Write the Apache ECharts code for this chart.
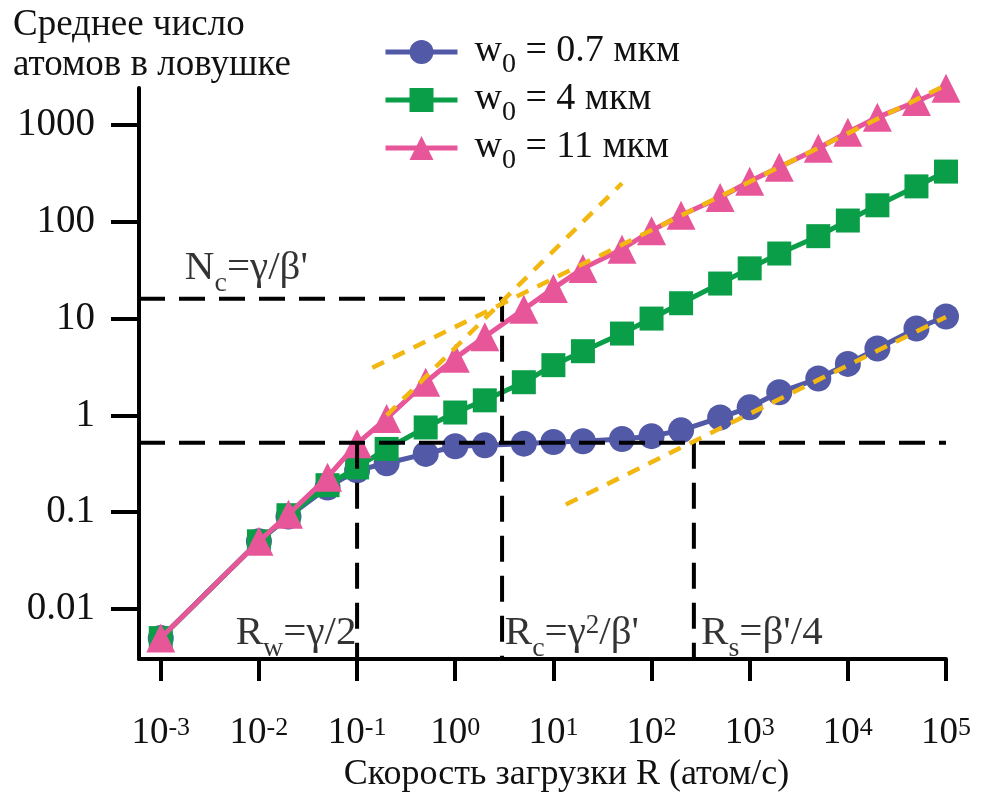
<!DOCTYPE html>
<html><head><meta charset="utf-8">
<script src="https://cdn.jsdelivr.net/npm/echarts@6/dist/echarts.min.js"></script>
<style>html,body{margin:0;padding:0;background:#fff}#c{width:984px;height:798px}</style>
</head><body><div id="c"></div>
<script>
// ---- data ----
const rates = [0.001,0.01,0.02,0.05,0.1,0.2,0.5,1,2,5,10,20,50,100,200,500,1000,2000,5000,10000,20000,50000,100000];
const nBlue  = [0.005,0.05,0.09,0.18,0.27,0.32,0.40,0.48,0.49,0.51,0.53,0.54,0.57,0.61,0.70,0.95,1.21,1.73,2.4,3.4,4.9,7.9,10.5];
const nGreen = [0.005,0.05,0.093,0.19,0.29,0.45,0.75,1.07,1.43,2.2,3.3,4.6,7.0,10,14.4,23,33,47,71,103,148,232,330];
const nPink  = [0.005,0.05,0.095,0.23,0.51,0.93,2.2,3.9,6.5,12.5,20.5,33,52,81,117,178,262,365,575,840,1200,1750,2400];
const seriesNames = ['w0 = 0.7 мкм','w0 = 4 мкм','w0 = 11 мкм'];
const xTicks = [0.001,0.01,0.1,1,10,100,1000,10000,100000];
const yTicks = [0.01,0.1,1,10,100,1000];
const yTickLabels = ['0.01','0.1','1','10','100','1000'];
const xMin = 6e-4, xMax = 1e5, yMin = 0.00304, yMax = 2410;
// characteristic levels
const Nc = 16, Rc = 3.0, Nlow = 0.52, Rw = 0.1, Rs = 270;
// yellow asymptotes [R, N] endpoints
const fitPinkLinear = [[0.2,1.0],[50,250]];
const fitPinkSqrt = [[0.143,3.1],[100000,2590]];
const fitBlueSqrt = [[13.4,0.12],[100000,10.4]];
// annotation anchors [R, N, text]
const notes = [
  [0.00176, 32, '{m|N}{s|c}{m|=γ/β\'}'],
  [0.0058, 0.0054, '{m|R}{s|w}{m|=γ/2}'],
  [3.2, 0.0054, '{m|R}{s|c}{m|=γ}{p|2}{m|/β\'}'],
  [320, 0.0054, '{m|R}{s|s}{m|=β\'/4}']
];

const FF = "'Liberation Serif','DejaVu Serif',serif";
const colors = ['#5259a6','#0b9e48','#e8569a'];
const yellow = '#f2b710';

const chart = echarts.init(document.getElementById('c'), null, {renderer:'canvas'});
const richMain = {
  m:{fontFamily:FF,fontSize:41,lineHeight:44,color:'#000',verticalAlign:'top'},
  s:{fontFamily:FF,fontSize:28,lineHeight:28,color:'#000',verticalAlign:'top',padding:[22,0,0,0]},
  p:{fontFamily:FF,fontSize:27,lineHeight:26,color:'#000',verticalAlign:'top'}
};
function pairs(ys){return rates.map((r,i)=>[r,ys[i]]);}
function blackLine(data){
  return {type:'line',data:data,symbol:'none',silent:true,z:5,
    lineStyle:{color:'#000',width:4,type:[26,14]},clip:true};
}
function yellowLine(data){
  return {type:'line',data:data,symbol:'none',silent:true,z:6,
    lineStyle:{color:yellow,width:4.5,type:[13,10]},clip:true};
}

const option = {
  animation:false,
  backgroundColor:'#fff',
  title:{text:'Среднее число\nатомов в ловушке',left:8,top:0,
    textStyle:{fontFamily:FF,fontSize:37,lineHeight:40,fontWeight:'normal',color:'#111'}},
  legend:{orient:'vertical',left:378,top:27,itemWidth:72,itemHeight:30,itemGap:1,
    data:seriesNames,
    lineStyle:{width:5},
    formatter:function(n){return '{w|w}{s|0}{t|'+n.slice(2)+'}';},
    textStyle:{rich:{
      w:{fontFamily:FF,fontSize:38,lineHeight:40,color:'#111',verticalAlign:'top',padding:[0,0,0,12]},
      s:{fontFamily:FF,fontSize:28,lineHeight:26,color:'#111',verticalAlign:'top',padding:[19,0,0,0]},
      t:{fontFamily:FF,fontSize:38,lineHeight:40,color:'#111',verticalAlign:'top'}
    }}},
  grid:{left:139,right:38,top:88,bottom:139,containLabel:false,outerBoundsMode:'none'},
  xAxis:{type:'log',logBase:10,min:xMin,max:xMax,
    axisLine:{show:true,lineStyle:{color:'#000',width:4}},
    axisTick:{show:true,customValues:xTicks,length:22,lineStyle:{color:'#000',width:4}},
    axisLabel:{customValues:xTicks,margin:56,
      formatter:function(v){return '{a|10}{b|'+Math.round(Math.log10(v))+'}';},
      rich:{a:{fontFamily:FF,fontSize:37,lineHeight:54,color:'#111',verticalAlign:'top'},
            b:{fontFamily:FF,fontSize:26,lineHeight:26,color:'#111',verticalAlign:'top'}}},
    splitLine:{show:false},minorTick:{show:false},
    name:'Скорость загрузки R (атом/с)',nameLocation:'middle',nameGap:97,
    nameTextStyle:{fontFamily:FF,fontSize:36,color:'#111',padding:[0,0,0,48]}
  },
  yAxis:{type:'log',logBase:10,min:yMin,max:yMax,
    axisLine:{show:true,lineStyle:{color:'#000',width:4}},
    axisTick:{show:true,customValues:yTicks,length:28,lineStyle:{color:'#000',width:4}},
    axisLabel:{customValues:yTicks,margin:44,fontFamily:FF,fontSize:39,color:'#111',
      formatter:function(v){const i=yTicks.findIndex(t=>Math.abs(Math.log10(t)-Math.log10(v))<1e-6);return i>=0?yTickLabels[i]:'';}},
    splitLine:{show:false},minorTick:{show:false}
  },
  series:[
    {name:seriesNames[0],type:'line',data:pairs(nBlue),symbol:'circle',symbolSize:26,z:2,
      lineStyle:{color:colors[0],width:5},itemStyle:{color:colors[0]}},
    {name:seriesNames[1],type:'line',data:pairs(nGreen),symbol:'rect',symbolSize:24,z:3,
      lineStyle:{color:colors[1],width:5},itemStyle:{color:colors[1]}},
    {name:seriesNames[2],type:'line',data:pairs(nPink),symbol:'triangle',symbolSize:29,z:4,
      lineStyle:{color:colors[2],width:5},itemStyle:{color:colors[2]}},
    blackLine([[xMin,Nc],[Rc,Nc],[Rc,yMin]]),
    blackLine([[xMin,Nlow],[xMax,Nlow]]),
    blackLine([[Rw,Nlow],[Rw,yMin]]),
    blackLine([[Rs,Nlow],[Rs,yMin]]),
    yellowLine(fitPinkLinear),
    yellowLine(fitPinkSqrt),
    yellowLine(fitBlueSqrt),
    {type:'scatter',silent:true,z:7,symbolSize:0,itemStyle:{color:'#000'},
      data:notes.map(n=>({value:[n[0],n[1]],label:{show:true,formatter:n[2]}})),
      label:{show:true,position:'right',distance:0,color:'#000',rich:richMain}}
  ]
};
chart.setOption(option);
</script></body></html>
